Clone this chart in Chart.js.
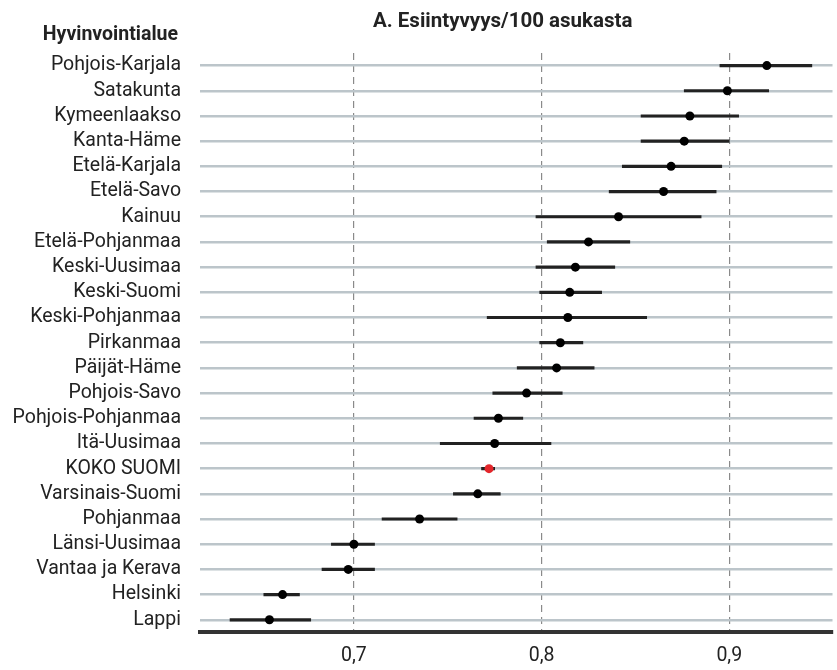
<!DOCTYPE html>
<html>
<head>
<meta charset="utf-8">
<script src="https://cdn.jsdelivr.net/npm/chart.js@4.4.1/dist/chart.umd.min.js"></script>
<style>
  body { margin: 0; background: #fff; }
  #wrap { position: relative; width: 837px; height: 670px; }
  #title { position: absolute; left: 373px; top: 8px; font: bold 20.5px Roboto, sans-serif; color: #222; white-space: nowrap; }
  #head { position: absolute; right: 659px; top: 22px; font: bold 19.5px Roboto, sans-serif; color: #222; white-space: nowrap; }
</style>
</head>
<body>
<div id="wrap">
  <canvas id="chart" width="837" height="670"></canvas>
  <div id="title">A. Esiintyvyys/100 asukasta</div>
  <div id="head">Hyvinvointialue</div>
</div>
<script>
// Hyvinvointialueet, ylhäältä alas
const regions = ['Pohjois-Karjala', 'Satakunta', 'Kymeenlaakso', 'Kanta-Häme', 'Etelä-Karjala', 'Etelä-Savo',
  'Kainuu', 'Etelä-Pohjanmaa', 'Keski-Uusimaa', 'Keski-Suomi', 'Keski-Pohjanmaa', 'Pirkanmaa', 'Päijät-Häme',
  'Pohjois-Savo', 'Pohjois-Pohjanmaa', 'Itä-Uusimaa', 'KOKO SUOMI', 'Varsinais-Suomi', 'Pohjanmaa',
  'Länsi-Uusimaa', 'Vantaa ja Kerava', 'Helsinki', 'Lappi'];
const estimate = [0.920, 0.899, 0.879, 0.876, 0.869, 0.865, 0.841, 0.825, 0.818, 0.815, 0.814, 0.810, 0.808,
  0.792, 0.777, 0.775, 0.772, 0.766, 0.735, 0.700, 0.697, 0.662, 0.655];
const lower = [0.895, 0.876, 0.853, 0.853, 0.843, 0.836, 0.797, 0.803, 0.797, 0.799, 0.771, 0.799, 0.787,
  0.774, 0.764, 0.746, 0.768, 0.753, 0.715, 0.688, 0.683, 0.652, 0.634];
const upper = [0.944, 0.921, 0.905, 0.900, 0.896, 0.893, 0.885, 0.847, 0.839, 0.832, 0.856, 0.822, 0.828,
  0.811, 0.790, 0.805, 0.775, 0.778, 0.755, 0.711, 0.711, 0.671, 0.677];
const xTicks = [0.7, 0.8, 0.9];

const INK = '#222';
const RED = '#e3262b';
const FONT = 'Roboto, sans-serif';

const ctx = document.getElementById('chart').getContext('2d');

new Chart(ctx, {
  type: 'bar',
  data: {
    labels: regions,
    datasets: [{
      // point estimates
      type: 'line',
      data: estimate,
      showLine: false,
      pointRadius: 4.5,
      pointHoverRadius: 4.5,
      pointBorderWidth: 0,
      pointBackgroundColor: regions.map(r => r === 'KOKO SUOMI' ? RED : '#000'),
      order: 0
    }, {
      // confidence intervals as floating bars
      data: lower.map((lo, i) => [lo, upper[i]]),
      backgroundColor: INK,
      barThickness: 2.5,
      borderSkipped: false,
      order: 1
    }]
  },
  options: {
    indexAxis: 'y',
    responsive: false,
    animation: false,
    layout: { padding: { top: 53, bottom: 1.6, left: 0, right: 0 } },
    plugins: { legend: { display: false }, tooltip: { enabled: false } },
    scales: {
      x: {
        min: 0.618,
        max: 0.955,
        afterBuildTicks: s => { s.ticks = xTicks.map(v => ({ value: v })); },
        afterFit: s => { s.height = 36; s.paddingLeft = 0; s.paddingRight = 0; },
        grid: { color: '#8a8a8a', lineWidth: 1.2, drawTicks: false },
        border: { display: true, color: '#333', width: 4, dash: [7, 5] },
        ticks: {
          color: INK,
          font: { family: FONT, size: 19.5 },
          padding: 12,
          callback: v => v.toFixed(1).replace('.', ',')
        }
      },
      y: {
        grid: { color: '#bcc5ca', lineWidth: 2.5, offset: false, drawTicks: false },
        border: { display: false },
        afterFit: s => { s.width = 200; s.paddingTop = 0; s.paddingBottom = 0; },
        ticks: { color: INK, font: { family: FONT, size: 19.5 }, padding: 19, autoSkip: false }
      }
    }
  }
});
</script>
</body>
</html>
